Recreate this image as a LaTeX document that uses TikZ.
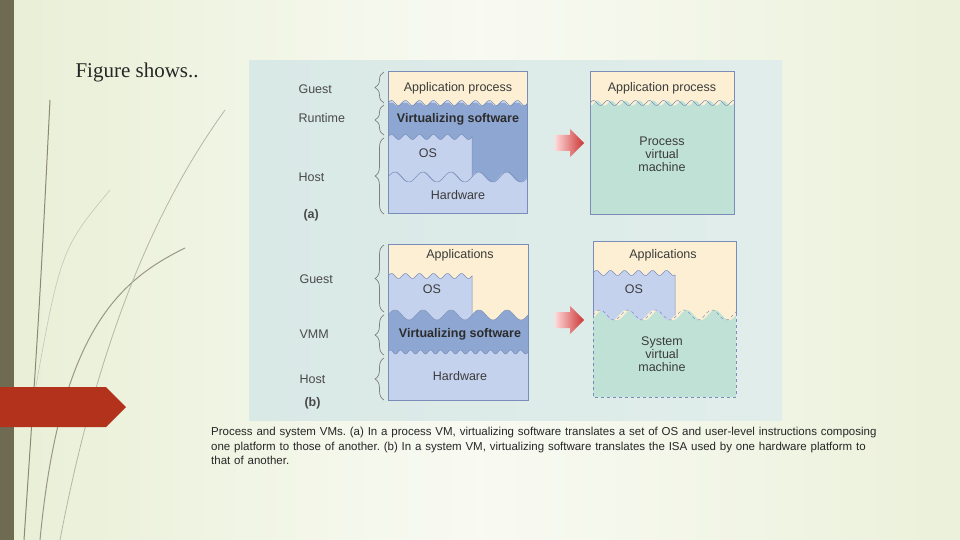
\documentclass[tikz,border=0pt]{standalone}
\usepackage{fontspec}
\setmainfont{Liberation Serif}
\setsansfont{Liberation Sans}
\usetikzlibrary{decorations.pathreplacing}
\definecolor{slidebg}{HTML}{E9EFD6}
\definecolor{stripe}{HTML}{6F6B52}
\definecolor{tagred}{HTML}{B3321B}
\definecolor{figbg}{HTML}{D9E9E6}
\definecolor{cream}{HTML}{FCEFD3}
\definecolor{lightblue}{HTML}{C5D2EE}
\definecolor{darkblue}{HTML}{8DA6D2}
\definecolor{vmteal}{HTML}{C0E2D6}
\definecolor{edgeblue}{HTML}{7A8DB8}
\definecolor{labelgrey}{HTML}{4A4A4A}
\newcommand{\wavy}[5]{-- plot[domain=#1:#2,samples=240,smooth] (\x,{#3-#4*sin(360/#5*(\x-#1))})}
\newcommand{\wavemove}[5]{plot[domain=#1:#2,samples=240,smooth] (\x,{#3-#4*sin(360/#5*(\x-#1))})}
\tikzset{
  layertext/.style={font=\sffamily\fontsize{12.5}{13}\selectfont, text=labelgrey!80!black, align=center},
  sidelabel/.style={font=\sffamily\fontsize{12.5}{14}\selectfont, text=labelgrey, anchor=west},
  layerbrace/.style={draw=labelgrey!70, line width=0.7pt, decorate, decoration={brace, amplitude=9pt}},
  waveline/.style={draw=edgeblue, line width=0.5pt}
}
\begin{document}
\begin{tikzpicture}[x=1pt,y=-1pt]
  % Slide background
  \shade[left color=slidebg, right color=slidebg!90!white, middle color=white!70!slidebg] (0,0) rectangle (960,540);
  \useasboundingbox (0,0) rectangle (960,540);
  \fill[stripe] (0,0) rectangle (14,540);

  % Decorative strokes
  \draw[stripe!80, line width=1pt] (24,540) .. controls (40,300) .. (50,100);
  \draw[stripe!70, line width=1pt] (40,540) .. controls (60,330) and (120,280) .. (185,248);
  \draw[stripe!50, line width=0.8pt] (60,540) .. controls (100,330) and (160,200) .. (225,110);
  \draw[stripe!40, line width=0.6pt] (30,420) .. controls (60,250) .. (110,190);
  \fill[tagred] (0,387) -- (106,387) -- (126,407) -- (106,427) -- (0,427) -- cycle;

  % Title
  \node[anchor=west, font=\fontsize{21}{24}\selectfont, text=black!85] (title) at (72,72) {Figure shows..};

  % Figure background
  \shade[left color=figbg, right color=figbg!80!white] (249,61) rectangle (782,420);

  % === (a) process VM ===
  \fill[lightblue] (388,71) rectangle (527,213);
  \fill[darkblue] (388,103) -- (527,103) -- (527,177) \wavy{527}{388}{177}{5}{28} -- cycle;
  \fill[lightblue] (388,137) \wavy{388}{472}{137}{2.5}{14} -- (472,177) \wavy{472}{388}{177}{5}{28} -- cycle;
  \draw[waveline] \wavemove{388}{472}{137}{2.5}{14} -- (472,177);
  \draw[waveline] \wavemove{388}{527}{177}{5}{28};
  \fill[cream] (388,71) -- (527,71) -- (527,103) \wavy{527}{388}{103}{2.5}{14} -- cycle;
  \draw[waveline] \wavemove{388}{527}{103}{2.5}{14};
  \draw[edgeblue] (388,71) rectangle (527,213);
  \node[layertext] (appa) at (458,88) {Application process};
  \node[layertext, text=labelgrey!60!black] (virta) at (458,119) {\bfseries Virtualizing software};
  \node[layertext] (osa) at (428,153) {OS};
  \node[layertext] (hwa) at (458,195) {Hardware};

  \fill[vmteal] (590,71) rectangle (734,214);
  \fill[cream] (590,71) -- (734,71) -- (734,103) \wavy{734}{590}{103}{2.5}{14} -- cycle;
  \draw[waveline] \wavemove{590}{734}{103}{2.5}{14};
  \draw[edgeblue] (590,71) rectangle (734,214);
  \node[layertext] (appa2) at (662,88) {Application process};
  \node[layertext] (pvm) at (662,154) {Process\\virtual\\machine};

  \node[sidelabel] (guesta) at (295,89) {Guest};
  \node[sidelabel] (runtime) at (295,118) {Runtime};
  \node[sidelabel] (hosta) at (295,177) {Host};
  \node[sidelabel, font=\sffamily\bfseries\fontsize{12.5}{14}\selectfont] (labela) at (300,215) {(a)};
  \draw[layerbrace] (384,103) -- (384,72);
  \draw[layerbrace] (384,135) -- (384,105);
  \draw[layerbrace] (384,214) -- (384,138);

  % === (b) system VM ===
  \fill[lightblue] (388,244) rectangle (528,400);
  \fill[darkblue] (388,315) \wavy{388}{528}{315}{5}{28} -- (528,352) \wavy{528}{388}{352}{2}{10} -- cycle;
  \draw[waveline] \wavemove{388}{528}{352}{2}{10};
  \fill[cream] (388,244) -- (528,244) -- (528,315) \wavy{528}{388}{315}{5}{28} -- cycle;
  \fill[lightblue] (388,276) \wavy{388}{472}{276}{2.5}{14} -- (472,315) \wavy{472}{388}{315}{5}{28} -- cycle;
  \draw[waveline] \wavemove{388}{472}{276}{2.5}{14} -- (472,315);
  \draw[waveline] \wavemove{388}{528}{315}{5}{28};
  \draw[edgeblue] (388,244) rectangle (528,400);
  \node[layertext] (appb) at (460,255) {Applications};
  \node[layertext] (osb) at (432,289) {OS};
  \node[layertext, text=labelgrey!60!black] (virtb) at (460,334) {\bfseries Virtualizing software};
  \node[layertext] (hwb) at (460,376) {Hardware};

  \fill[vmteal] (593,241) rectangle (736,397);
  \fill[cream] (593,241) -- (736,241) -- (736,315) \wavy{736}{593}{315}{5}{28} -- cycle;
  \fill[lightblue] (593,273) \wavy{593}{675}{273}{2.5}{14} -- (675,315) \wavy{675}{593}{315}{5}{28} -- cycle;
  \draw[waveline] \wavemove{593}{675}{273}{2.5}{14} -- (675,315);
  \draw[waveline, dashed] \wavemove{593}{736}{315}{5}{28};
  \draw[edgeblue] (736,315) -- (736,241) -- (593,241) -- (593,315);
  \draw[edgeblue, dashed] (593,315) -- (593,397) -- (736,397) -- (736,315);
  \node[layertext] (appb2) at (663,255) {Applications};
  \node[layertext] (osb2) at (634,289) {OS};
  \node[layertext] (svm) at (662,354) {System\\virtual\\machine};

  \node[sidelabel] (guestb) at (296,279) {Guest};
  \node[sidelabel] (vmm) at (296,334) {VMM};
  \node[sidelabel] (hostb) at (296,379) {Host};
  \node[sidelabel, font=\sffamily\bfseries\fontsize{12.5}{14}\selectfont] (labelb) at (301,403) {(b)};
  \draw[layerbrace] (384,312) -- (384,245);
  \draw[layerbrace] (384,355) -- (384,315);
  \draw[layerbrace] (384,400) -- (384,358);

  % Arrows
  \foreach \ay in {143,320} {
    \shade[left color=red!15!white, right color=red!75!black!80]
      (555,\ay-8) -- (570,\ay-8) -- (570,\ay-14) -- (584,\ay) -- (570,\ay+14) -- (570,\ay+8) -- (555,\ay+8) -- cycle;
  }

  % Caption
  \node[anchor=north west, text width=672pt, font=\sffamily\fontsize{11.5}{14.5}\selectfont\frenchspacing, text=black!85, inner sep=0pt] (caption) at (211,427)
    {\raggedright Process and system VMs. (a) In a process VM, virtualizing software translates a set of OS and user-level instructions composing one platform to those of another. (b) In a system VM, virtualizing software translates the ISA used by one hardware platform to that of another.\par};
\end{tikzpicture}
\end{document}
